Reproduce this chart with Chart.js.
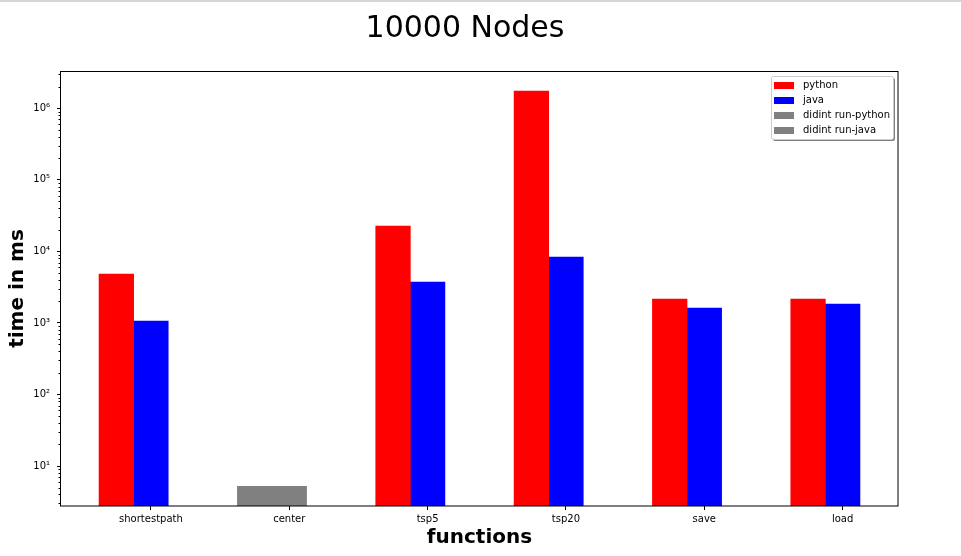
<!DOCTYPE html>
<html>
<head>
<meta charset="utf-8">
<script src="https://cdn.jsdelivr.net/npm/chart.js@4"></script>
<style>
  html, body { margin: 0; padding: 0; background: #fff; }
  #topline { position: absolute; left: 0; top: 0; width: 961px; height: 2px; background: #d6d6d6; }
  #chart { display: block; }
</style>
</head>
<body>
<div id="topline"></div>
<canvas id="chart" width="961" height="556"></canvas>
<script>
// values (ms, log scale)
const title = "10000 Nodes";
const categories = ["shortestpath", "center", "tsp5", "tsp20", "save", "load"];
const pythonTimes = [4820, null, 22600, 1750000, 2150, 2150];
const javaTimes = [1060, null, 3720, 8320, 1610, 1830];
const didntRunPython = [null, 5.2, null, null, null, null];
const didntRunJava = [null, 5.2, null, null, null, null];
const yTickValues = [10, 100, 1000, 10000, 100000, 1000000];
const yTickLabels = ["10¹", "10²", "10³", "10⁴", "10⁵", "10⁶"];

const FONT = "'DejaVu Sans', sans-serif";
const barWidth = 0.25;

// python bar sits one bar width left of the tick, java bar on the tick
function points(values, shift) {
    let out = [];
    values.forEach((v, i) => {
        if (v !== null) out.push({ x: i + shift, y: v });
    });
    return out;
}

const extras = {
    id: "extras",
    afterDraw(chart) {
        const ctx = chart.ctx;
        const a = chart.chartArea;
        const y = chart.scales.y;
        ctx.save();

        // title
        ctx.fillStyle = "#000";
        ctx.font = "30px " + FONT;
        ctx.textAlign = "center";
        ctx.textBaseline = "alphabetic";
        ctx.fillText(title, 465, 37);

        // axes frame
        ctx.strokeStyle = "#000";
        ctx.lineWidth = 1;
        ctx.strokeRect(a.left - 0.5, a.top + 0.5, a.right - a.left + 0.5, a.bottom - a.top - 0.5);

        // minor log ticks
        ctx.beginPath();
        for (let e = 0; e <= 7; e++) {
            for (let m = 2; m <= 9; m++) {
                const v = m * Math.pow(10, e);
                if (v < y.min || v > y.max) continue;
                const py = Math.round(y.getPixelForValue(v)) + 0.5;
                ctx.moveTo(a.left - 2.5, py);
                ctx.lineTo(a.left, py);
            }
        }
        ctx.stroke();

        // legend with shadow
        const lx = 771, ly = 76, lw = 122, lh = 63;
        ctx.fillStyle = "rgba(0,0,0,0.5)";
        ctx.beginPath();
        ctx.roundRect(lx + 2, ly + 2, lw, lh, 2);
        ctx.fill();
        ctx.fillStyle = "#fff";
        ctx.strokeStyle = "#cccccc";
        ctx.beginPath();
        ctx.roundRect(lx + 0.5, ly + 0.5, lw, lh, 2);
        ctx.fill();
        ctx.stroke();

        ctx.font = "10px " + FONT;
        ctx.textAlign = "left";
        ctx.textBaseline = "middle";
        chart.data.datasets.forEach((ds, i) => {
            const cy = ly + 9.5 + i * 15;
            ctx.fillStyle = ds.backgroundColor;
            ctx.fillRect(774, cy - 3.5, 20, 7);
            ctx.fillStyle = "#000";
            ctx.fillText(ds.label, 803, cy);
        });
        ctx.restore();
    }
};

new Chart(document.getElementById("chart"), {
    type: "bar",
    data: {
        datasets: [
            { label: "python", data: points(pythonTimes, -barWidth), backgroundColor: "#ff0000" },
            { label: "java", data: points(javaTimes, 0), backgroundColor: "#0000ff" },
            { label: "didint run-python", data: points(didntRunPython, -barWidth), backgroundColor: "#808080" },
            { label: "didint run-java", data: points(didntRunJava, 0), backgroundColor: "#808080" }
        ]
    },
    options: {
        responsive: false,
        animation: false,
        grouped: false,
        categoryPercentage: 1,
        barPercentage: 1,
        layout: { padding: { top: 71, right: 63, left: 0, bottom: 0 } },
        plugins: {
            legend: { display: false },
            title: { display: false },
            tooltip: { enabled: false }
        },
        scales: {
            x: {
                type: "linear",
                min: -0.65,
                max: 5.4,
                offset: false,
                border: { display: false },
                grid: { offset: false, drawOnChartArea: false, drawTicks: true, tickLength: 4, color: "#000" },
                afterBuildTicks: (s) => { s.ticks = categories.map((c, i) => ({ value: i })); },
                afterFit: (s) => { s.height = 50; },
                ticks: {
                    autoSkip: false,
                    maxRotation: 0,
                    padding: 3,
                    color: "#000",
                    font: { family: FONT, size: 10 },
                    callback: (v, i) => categories[i]
                },
                title: {
                    display: true,
                    text: "functions",
                    color: "#000",
                    font: { family: FONT, size: 20, weight: "bold" },
                    padding: { top: 0, bottom: 6 }
                }
            },
            y: {
                type: "logarithmic",
                min: 2.76,
                max: 3.33e6,
                border: { display: false },
                grid: { drawOnChartArea: false, drawTicks: true, tickLength: 4, color: "#000" },
                afterBuildTicks: (s) => { s.ticks = yTickValues.map(v => ({ value: v })); },
                afterFit: (s) => { s.width = 61; },
                ticks: {
                    padding: 7,
                    color: "#000",
                    font: { family: FONT, size: 10 },
                    callback: (v, i) => yTickLabels[i]
                },
                title: {
                    display: true,
                    text: "time in ms",
                    color: "#000",
                    font: { family: FONT, size: 20, weight: "bold" },
                    padding: { top: 6, bottom: 0 }
                }
            }
        }
    },
    plugins: [extras]
});
</script>
</body>
</html>
